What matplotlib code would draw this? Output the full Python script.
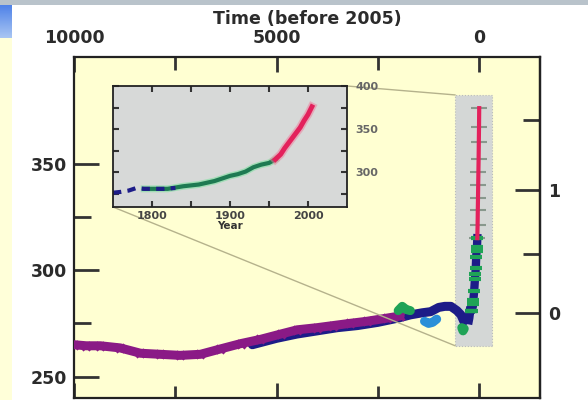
import numpy as np
import matplotlib
matplotlib.use("Agg")
import matplotlib.pyplot as plt
from matplotlib.patches import Rectangle, ConnectionPatch
from matplotlib.ticker import FixedLocator, NullFormatter

# ---------------- data ----------------
# main panel: years before 2005, CO2 ppm
purple_years = [10000, 9700, 9350, 8860, 8360, 7870, 7380, 6880, 6390, 5890,
                5400, 4900, 4490, 4000, 3600, 3200, 2770, 2270, 1950]
purple_ppm = [265, 264.5, 264.5, 263.5, 261, 260.5, 260, 260.5, 263, 265.5,
              267.5, 270, 272, 273, 274, 275, 276, 277.5, 278.5]

blue_years = [5600, 5000, 4500, 4000, 3500, 3000, 2500, 2000, 1700, 1400,
              1200, 1000, 850, 700, 550, 450, 380, 300]
blue_ppm = [265, 268, 270, 271.5, 273, 274, 275.5, 277.5, 279, 280,
            280.5, 282.5, 283, 283, 281, 279, 276, 278]

green1_years = [2000, 1900, 1800, 1700]
green1_ppm = [281, 283, 281.5, 281]
green2_years = [430, 400, 370]
green2_ppm = [273, 271.5, 272.5]

cyan_years = [1350, 1250, 1150, 1050]
cyan_ppm = [276, 275, 275.5, 277]

# inset / modern record: calendar years, CO2 ppm
early_yr = [1750, 1760, 1770, 1780, 1790, 1800, 1815, 1830]
early_ppm = [276.5, 277.5, 279, 282, 281, 281, 281, 282]
ice_yr = [1790, 1800, 1820, 1840, 1860, 1880, 1900, 1910, 1920, 1930,
          1940, 1950, 1958]
ice_ppm = [281, 281, 281, 284, 286, 290, 296, 298, 301, 306,
           309, 311, 315]
atm_yr = [1958, 1965, 1970, 1975, 1980, 1985, 1990, 1995, 2000, 2005]
atm_ppm = [315, 321, 328, 334, 340, 346, 352, 360, 367, 376]

# axes
x_major = [10000, 5000, 0]
x_minor = [7500, 2500]
y_major = [250, 300, 350]
y_minor = [275, 325]
rf_major = [0, 1]
rf_minor = [0.5, 1.5]
inset_xticks = [1800, 1850, 1900, 1950, 2000]
inset_xlabels = ["1800", "", "1900", "", "2000"]
inset_yticks = [275, 300, 325, 350, 375, 400]
inset_ylabels = ["", "300", "", "350", "", "400"]

C_PURPLE = "#8a1a86"
C_BLUE = "#1d1c88"
C_GREEN = "#1fa356"
C_CYAN = "#2a8fd8"
C_RED = "#e3215c"
C_TEXT = "#2b2b2b"
FONT = "DejaVu Sans"

fig = plt.figure(figsize=(5.88, 4.0), dpi=100)
fig.patch.set_facecolor("white")

# slide decorations
fig.add_artist(Rectangle((0, 1 - 5 / 400), 1, 5 / 400, transform=fig.transFigure,
                         facecolor="#b9c3cb", edgecolor="none", zorder=0))
fig.add_artist(Rectangle((0, 0), 12 / 588, 1 - 38 / 400, transform=fig.transFigure,
                         facecolor="#ffffd9", edgecolor="none", zorder=0))
gax = fig.add_axes([0, 1 - 38 / 400, 12 / 588, 33 / 400])
grad = np.linspace(0, 1, 50).reshape(-1, 1)
gax.imshow(grad, aspect="auto", cmap=matplotlib.colors.LinearSegmentedColormap.from_list(
    "g", ["#4f82e8", "#a9c6f3"]))
gax.set_axis_off()

# ---------------- main axes ----------------
ax = fig.add_axes([74 / 588, 1 - 398 / 400, 466 / 588, 341 / 400])
ax.set_facecolor("#ffffd2")
ax.set_xlim(10000, -1500)
ax.set_ylim(240, 400)

# grey zoom box
box_x0, box_x1, box_y0, box_y1 = 592, -321, 264.5, 382.2
ax.add_patch(Rectangle((box_x1, box_y0), box_x0 - box_x1, box_y1 - box_y0,
                       facecolor="#d4d7d6", edgecolor="#b9bcbc", lw=0.8,
                       linestyle=":", zorder=1))

kw = dict(lw=6.5, solid_capstyle="round", solid_joinstyle="round")
ax.plot(blue_years, blue_ppm, color=C_BLUE, zorder=3, **kw)
ax.plot(purple_years, purple_ppm, color=C_PURPLE, zorder=3.5, **kw)
ax.plot(purple_years, purple_ppm, ls="none", marker="x", ms=6, mew=2.2,
        color=C_PURPLE, zorder=3.5)
ax.plot(green1_years, green1_ppm, color=C_GREEN, zorder=4, **kw)
ax.plot(cyan_years, cyan_ppm, color=C_CYAN, zorder=4, **kw)
ax.plot(green2_years, green2_ppm, color=C_GREEN, zorder=4, **kw)

bp = lambda yrs: 2005 - np.asarray(yrs, dtype=float)
ax.plot(bp(early_yr), early_ppm, color=C_BLUE, lw=6, zorder=4)
ax.plot(bp(ice_yr), ice_ppm, color=C_BLUE, lw=6, zorder=4)
ax.plot(bp(ice_yr), ice_ppm, ls="none", marker="_", ms=8, mew=3, color=C_GREEN, zorder=5)
ax.plot(bp(atm_yr), atm_ppm, color=C_RED, lw=3, zorder=5)
ax.plot(bp(atm_yr), atm_ppm, ls="none", marker="_", ms=11, mew=1.5,
        color="#3d5a45", alpha=0.5, zorder=4)

for s in ax.spines.values():
    s.set_linewidth(1.6)
    s.set_color("#222222")

ax.xaxis.set_major_locator(FixedLocator(x_major))
ax.xaxis.set_minor_locator(FixedLocator(x_minor))
ax.yaxis.set_major_locator(FixedLocator(y_major))
ax.yaxis.set_minor_locator(FixedLocator(y_minor))
ax.tick_params(axis="x", which="both", direction="in", top=True, bottom=True,
               labeltop=True, labelbottom=False, width=2, color="#333333")
ax.tick_params(axis="x", which="major", length=11, pad=7)
ax.tick_params(axis="x", which="minor", length=9)
ax.tick_params(axis="y", which="both", direction="in", left=True, right=False,
               width=2, color="#333333")
ax.tick_params(axis="y", which="major", length=18, pad=5)
ax.tick_params(axis="y", which="minor", length=12)
ax.set_xticklabels([str(v) for v in x_major])
for lab in ax.get_xticklabels() + ax.get_yticklabels():
    lab.set_fontfamily(FONT)
    lab.set_fontweight("bold")
    lab.set_fontsize(12.5)
    lab.set_color(C_TEXT)
ax.xaxis.set_label_position("top")
ax.set_xlabel("Time (before 2005)", fontsize=12.5, fontweight="bold",
              family=FONT, color=C_TEXT, labelpad=4)

# radiative forcing axis (logarithmic in CO2)
fwd = lambda c: 5.35 * np.log(np.clip(c, 1e-6, None) / 280.0)
inv = lambda f: 280.0 * np.exp(np.asarray(f) / 5.35)
sec = ax.secondary_yaxis("right", functions=(fwd, inv))
sec.yaxis.set_major_locator(FixedLocator(rf_major))
sec.yaxis.set_minor_locator(FixedLocator(rf_minor))
sec.yaxis.set_minor_formatter(NullFormatter())
sec.tick_params(which="both", direction="in", width=2, color="#333333")
sec.tick_params(which="major", length=18, pad=6)
sec.tick_params(which="minor", length=12)
sec.spines["right"].set_linewidth(1.6)
sec.set_yticks(rf_major)
sec.set_yticklabels([str(v) for v in rf_major], fontsize=12.5, fontweight="bold",
                    family=FONT, color=C_TEXT)

# ---------------- inset ----------------
ax2 = fig.add_axes([113 / 588, 1 - 207 / 400, 234 / 588, 121 / 400])
ax2.set_zorder(5)
ax2.set_facecolor("#d7d9d8")
ax2.set_xlim(1750, 2050)
ax2.set_ylim(260, 400)
ax2.plot(ice_yr, ice_ppm, color="#7fe0a0", lw=5, alpha=0.6)
ax2.plot(ice_yr, ice_ppm, color="#1e7a52", lw=3)
ax2.plot(early_yr, early_ppm, color=C_BLUE, lw=3, ls=(0, (2, 1.5)))
ax2.plot(atm_yr, atm_ppm, color="#f07a9a", lw=6, alpha=0.5)
ax2.plot(atm_yr, atm_ppm, color=C_RED, lw=3.5)
for s in ax2.spines.values():
    s.set_linewidth(1.3)
    s.set_color("#222222")
ax2.set_xticks(inset_xticks)
ax2.set_xticklabels(inset_xlabels)
ax2.set_yticks(inset_yticks)
ax2.set_yticklabels(inset_ylabels)
ax2.tick_params(axis="both", direction="in", length=4, width=1.5, color="#333333",
                top=True, right=True, left=True, bottom=True,
                labelleft=False, labelright=True, pad=3)
for lab in ax2.get_xticklabels():
    lab.set_fontsize(8)
    lab.set_fontweight("bold")
    lab.set_color("#444444")
for lab in ax2.get_yticklabels():
    lab.set_fontsize(8)
    lab.set_fontweight("bold")
    lab.set_color("#666666")
ax2.tick_params(axis="y", pad=6)
ax2.set_xlabel("Year", fontsize=7.5, fontweight="bold", color="#333333", labelpad=0)

# connecting lines
for xyA, xyB in [((1, 1), (box_x0, box_y1)), ((0, 0), (box_x0, box_y0))]:
    con = ConnectionPatch(xyA=xyA, coordsA=ax2.transAxes, xyB=xyB, coordsB=ax.transData,
                          color="#b5b28c", lw=1.0, zorder=2)
    fig.add_artist(con)

fig.savefig("out.png", dpi=100, facecolor=fig.get_facecolor())
